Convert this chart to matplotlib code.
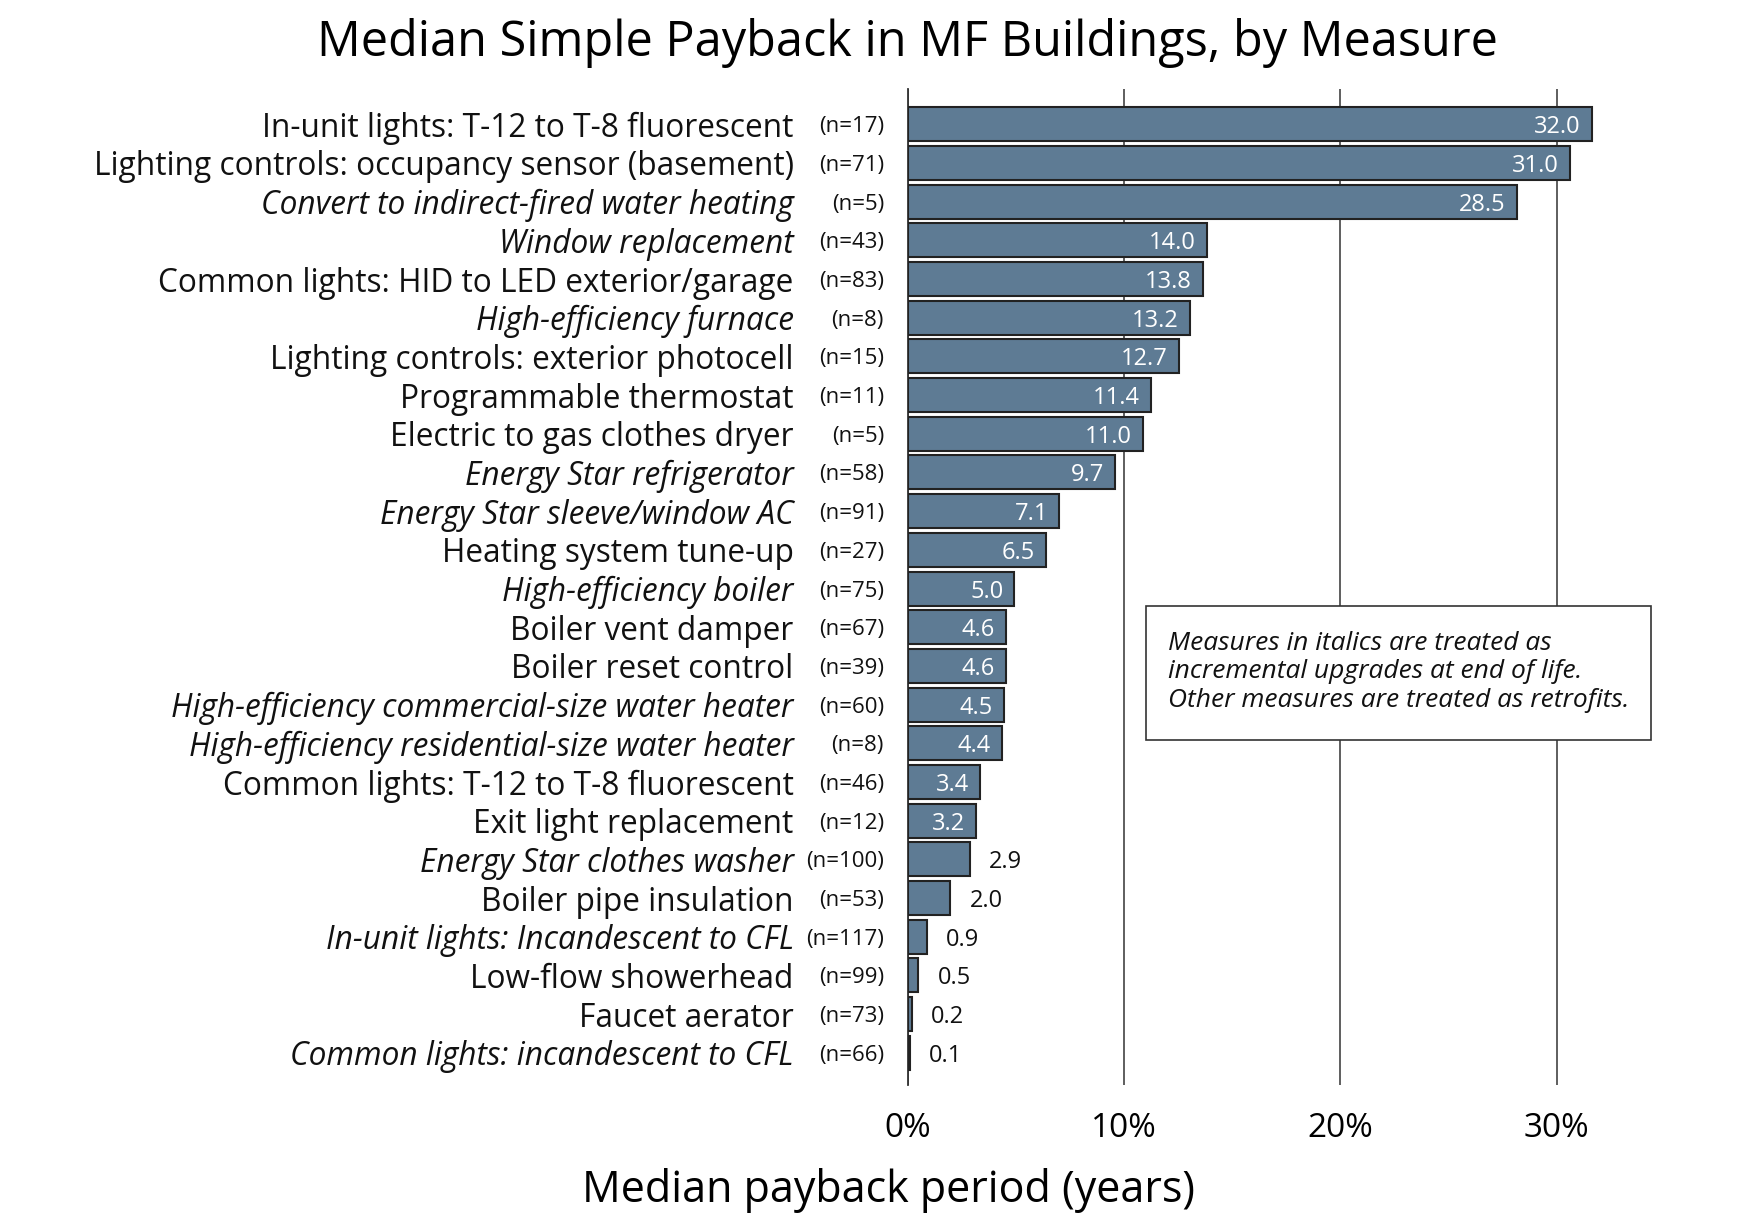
import matplotlib.pyplot as plt
import matplotlib.patches as mpatches

measures = ['In-unit lights: T-12 to T-8 fluorescent',
            'Lighting controls: occupancy sensor (basement)',
            'Convert to indirect-fired water heating',
            'Window replacement',
            'Common lights: HID to LED exterior/garage',
            'High-efficiency furnace',
            'Lighting controls: exterior photocell',
            'Programmable thermostat',
            'Electric to gas clothes dryer',
            'Energy Star refrigerator',
            'Energy Star sleeve/window AC',
            'Heating system tune-up',
            'High-efficiency boiler',
            'Boiler vent damper',
            'Boiler reset control',
            'High-efficiency commercial-size water heater',
            'High-efficiency residential-size water heater',
            'Common lights: T-12 to T-8 fluorescent',
            'Exit light replacement',
            'Energy Star clothes washer',
            'Boiler pipe insulation',
            'In-unit lights: Incandescent to CFL',
            'Low-flow showerhead',
            'Faucet aerator',
            'Common lights: incandescent to CFL']
italic = [False, False, True, True, False, True, False, False, False, True,
          True, False, True, False, False, True, True, False, False, True,
          False, True, False, False, True]
n_obs = [17, 71, 5, 43, 83, 8, 15, 11, 5, 58, 91, 27, 75, 67, 39, 60, 8,
         46, 12, 100, 53, 117, 99, 73, 66]
payback = [32.0, 31.0, 28.5, 14.0, 13.8, 13.2, 12.7, 11.4, 11.0, 9.7, 7.1,
           6.5, 5.0, 4.6, 4.6, 4.5, 4.4, 3.4, 3.2, 2.9, 2.0, 0.9, 0.5, 0.2, 0.1]
xticks = [0, 10, 20, 30]
xticklabels = ['0%', '10%', '20%', '30%']

plt.rcParams['font.family'] = ['Open Sans', 'DejaVu Sans']

fig = plt.figure(figsize=(17.52, 12.25), dpi=100)
ax = fig.add_axes([0.518, 0.114, 0.427, 0.813])

# percent axis (gridlines + tick labels) sits behind the bars, on a slightly different scale
ax2 = ax.twiny()
ax2.set_xlim(0, 34.57)
ax2.set_xticks(xticks)
ax2.set_xticklabels(xticklabels, fontsize=24)
ax2.xaxis.set_ticks_position('bottom')
ax2.tick_params(axis='x', length=0, pad=19)
ax2.grid(axis='x', color='#333333', linewidth=1.1)
for s in ['top', 'right', 'bottom', 'left']:
    ax2.spines[s].set_visible(False)
ax2.set_zorder(1)
ax.set_zorder(2)
ax.patch.set_visible(False)

ypos = list(range(len(measures)))
ax.barh(ypos, payback, height=0.88, color='#5e7b94', edgecolor='#222222',
        linewidth=1.5, zorder=3)
ax.set_ylim(len(measures) - 1 + 0.84, -0.9)
ax.set_xlim(0, 35)
ax.set_xticks([])
ax.set_yticks([])
for s in ['top', 'right', 'bottom']:
    ax.spines[s].set_visible(False)
ax.spines['left'].set_color('#333333')
ax.spines['left'].set_linewidth(1.3)

for i in ypos:
    ax.annotate(measures[i], xy=(0, i), xytext=(-82, 0), textcoords='offset points',
                ha='right', va='center_baseline', fontsize=22.8, color='#111111',
                style='italic' if italic[i] else 'normal')
    ax.annotate('(n=%d)' % n_obs[i], xy=(0, i), xytext=(-17, 0), textcoords='offset points',
                ha='right', va='center_baseline', fontsize=16, color='#111111')
    if payback[i] >= 3:
        ax.annotate('%.1f' % payback[i], xy=(payback[i], i), xytext=(-8, 0),
                    textcoords='offset points', ha='right', va='center_baseline',
                    fontsize=17, color='white', zorder=4)
    else:
        ax.annotate('%.1f' % payback[i], xy=(payback[i], i), xytext=(14, 0),
                    textcoords='offset points', ha='left', va='center_baseline',
                    fontsize=17, color='#111111', zorder=4)

fig.text(0.518, 0.965, 'Median Simple Payback in MF Buildings, by Measure',
         ha='center', va='center', fontsize=35)
fig.text(0.507, 0.028, 'Median payback period (years)', ha='center', va='center',
         fontsize=31)

box = mpatches.Rectangle((1146 / 1752, 1 - 740 / 1225), 505 / 1752, 134 / 1225,
                         transform=fig.transFigure, facecolor='white',
                         edgecolor='#333333', linewidth=1.2, zorder=5)
fig.add_artist(box)
fig.text(1168 / 1752, 1 - 672 / 1225,
         'Measures in italics are treated as\nincremental upgrades at end of life.\n'
         'Other measures are treated as retrofits.',
         ha='left', va='center', fontsize=19, style='italic', linespacing=1.18,
         color='#111111', zorder=6)

fig.savefig('out.png', dpi=100)
